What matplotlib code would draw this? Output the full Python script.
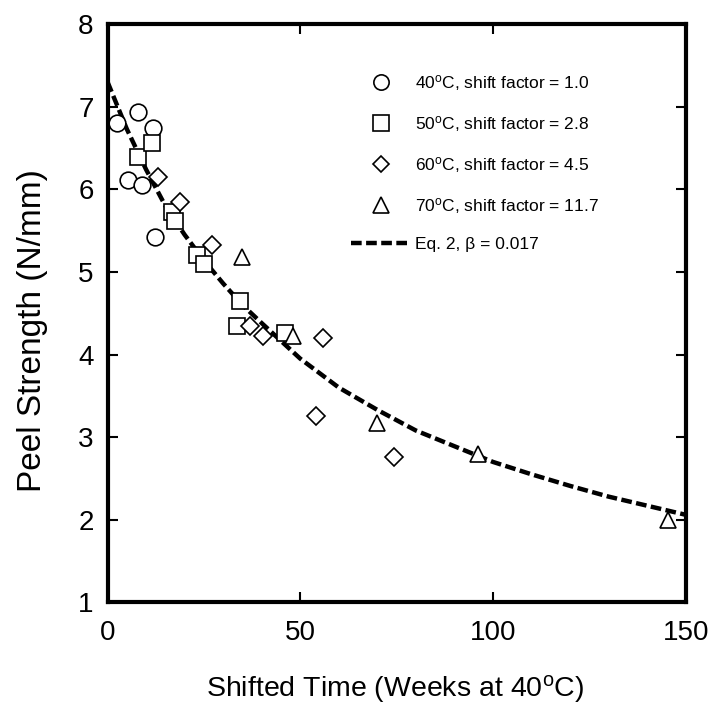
import matplotlib
matplotlib.use("Agg")
import matplotlib.pyplot as plt
from matplotlib.lines import Line2D

plt.rcParams['font.family'] = ['Liberation Sans', 'DejaVu Sans']
plt.rcParams['mathtext.fontset'] = 'custom'
plt.rcParams['mathtext.rm'] = 'Liberation Sans'
plt.rcParams['mathtext.it'] = 'Liberation Sans:italic'

# 40 C data
t40 = [2.5, 7.9, 5.3, 9.0, 11.8, 12.3]
p40 = [6.80, 6.93, 6.11, 6.05, 6.74, 5.42]
# 50 C data
t50 = [8.0, 11.5, 16.7, 17.5, 23.1, 25.0, 34.4, 33.7, 46.1]
p50 = [6.39, 6.56, 5.73, 5.62, 5.21, 5.10, 4.65, 4.35, 4.26]
# 60 C data
t60 = [13.2, 18.8, 27.0, 37.0, 40.3, 55.8, 54.0, 74.4]
p60 = [6.15, 5.84, 5.33, 4.35, 4.23, 4.20, 3.26, 2.76]
# 70 C data
t70 = [35.0, 48.2, 69.9, 96.2, 145.4]
p70 = [5.18, 4.22, 3.17, 2.80, 2.00]
# Eq. 2 curve
t_fit = [0, 5, 10, 15, 20, 25, 30, 35, 40, 50, 60, 70, 80, 90, 100, 110, 120, 130, 140, 150]
p_fit = [7.30, 6.73, 6.24, 5.80, 5.45, 5.14, 4.86, 4.60, 4.38, 3.95, 3.60, 3.33, 3.08, 2.89,
         2.70, 2.55, 2.41, 2.28, 2.17, 2.06]

labels = ["40$^{\\mathrm{o}}$C, shift factor = 1.0",
          "50$^{\\mathrm{o}}$C, shift factor = 2.8",
          "60$^{\\mathrm{o}}$C, shift factor = 4.5",
          "70$^{\\mathrm{o}}$C, shift factor = 11.7",
          "Eq. 2, \u03b2 = 0.017"]
xticks = [0, 50, 100, 150]
yticks = [1, 2, 3, 4, 5, 6, 7, 8]

fig = plt.figure(figsize=(7.12, 7.07), dpi=100)
ax = fig.add_axes([0.151, 0.148, 0.812, 0.818])

ax.plot(t_fit, p_fit, color='black', lw=3.2, linestyle=(0, (2.4, 1.0)), zorder=2)

mk = dict(linestyle='none', markerfacecolor='white', markeredgecolor='black',
          markeredgewidth=1.2, zorder=3)
ax.plot(t40, p40, marker='o', markersize=12, **mk)
ax.plot(t50, p50, marker='s', markersize=12, **mk)
ax.plot(t60, p60, marker='D', markersize=9, **mk)
ax.plot(t70, p70, marker='^', markersize=12, **mk)

ax.set_xlim(0, 150)
ax.set_ylim(1, 8)
ax.set_xticks(xticks)
ax.set_yticks(yticks)
ax.tick_params(direction='in', length=7, width=1.5, labelsize=20,
               top=True, right=True, pad=10)
ax.tick_params(axis='x', pad=13)
for s in ax.spines.values():
    s.set_linewidth(3)

ax.set_xlabel("Shifted Time (Weeks at 40$^{\\mathrm{o}}$C)", fontsize=20.5)
ax.xaxis.set_label_coords(0.497, -0.123)
ax.set_ylabel("Peel Strength (N/mm)", fontsize=24)
ax.yaxis.set_label_coords(-0.103, 0.47)

handles = [
    Line2D([], [], marker='o', markersize=11, **mk),
    Line2D([], [], marker='s', markersize=11, **mk),
    Line2D([], [], marker='D', markersize=8, **mk),
    Line2D([], [], marker='^', markersize=11, **mk),
    Line2D([], [], color='black', lw=3.2, linestyle=(0, (2.4, 1.0))),
]
ax.legend(handles, labels, loc='upper left', bbox_to_anchor=(0.41, 0.927), frameon=False,
          fontsize=12.5, handlelength=3.35, handletextpad=0.3, labelspacing=1.2,
          borderaxespad=0)

fig.savefig("out.png", dpi=100)
